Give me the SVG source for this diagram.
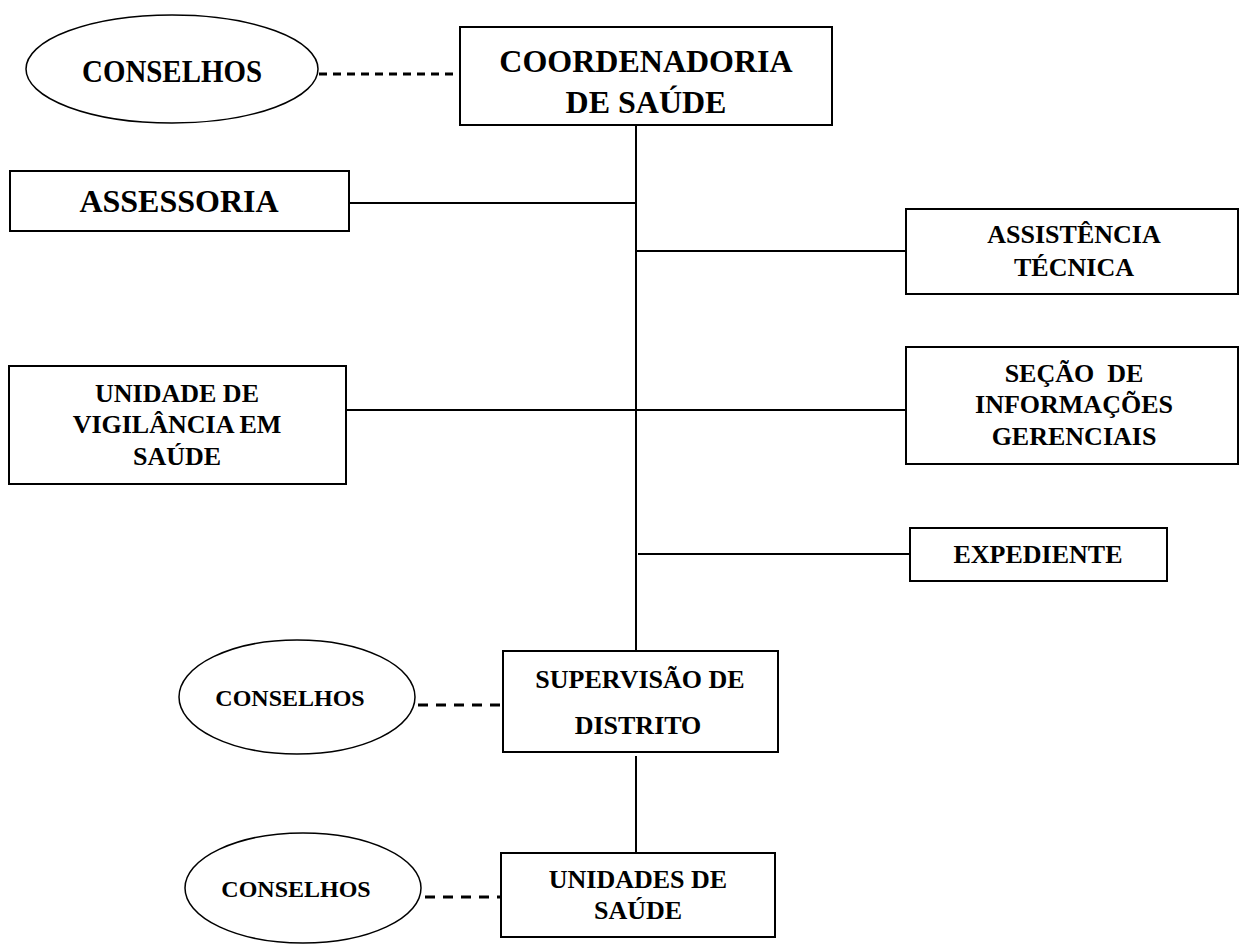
<svg xmlns="http://www.w3.org/2000/svg" width="1239" height="945" viewBox="0 0 1239 945">
<style>
.box{fill:#fff;stroke:#000;stroke-width:2}
.ell{fill:#fff;stroke:#000;stroke-width:1.5}
.ln{stroke:#000;stroke-width:2;fill:none}
.dash{stroke:#000;stroke-width:3;fill:none;stroke-dasharray:8 6}
.dash2{stroke:#000;stroke-width:3;fill:none;stroke-dasharray:10 8}
text{font-family:"Liberation Serif","Times New Roman",serif;font-weight:bold;fill:#000;text-anchor:middle}
.big{font-size:32px}
.mid{font-size:26px}
.sm{font-size:24px}
</style>
<rect width="1239" height="945" fill="#fff"/>
<g id="connectors">
<line class="ln" x1="636" y1="125" x2="636" y2="651"/>
<line class="ln" x1="349" y1="203" x2="636" y2="203"/>
<line class="ln" x1="636" y1="251" x2="906" y2="251"/>
<line class="ln" x1="346" y1="410" x2="906" y2="410"/>
<line class="ln" x1="638" y1="554" x2="910" y2="554"/>
<line class="ln" x1="636" y1="756" x2="636" y2="853"/>
<line class="dash" x1="319" y1="74" x2="460" y2="74"/>
<line class="dash2" x1="418" y1="705" x2="503" y2="705"/>
<line class="dash2" x1="425" y1="897" x2="501" y2="897"/>
</g>
<g id="conselhos1">
<ellipse class="ell" cx="172" cy="69" rx="146" ry="54"/>
<text class="big" x="172" y="82" textLength="180" lengthAdjust="spacingAndGlyphs">CONSELHOS</text>
</g>
<g id="coordenadoria">
<rect class="box" x="460" y="27" width="372" height="98"/>
<text class="big" x="646" y="72">COORDENADORIA</text>
<text class="big" x="646" y="113">DE SAÚDE</text>
</g>
<g id="assessoria">
<rect class="box" x="10" y="171" width="339" height="60"/>
<text class="big" x="179" y="212">ASSESSORIA</text>
</g>
<g id="assistencia">
<rect class="box" x="906" y="209" width="332" height="85"/>
<text class="mid" x="1074" y="243">ASSISTÊNCIA</text>
<text class="mid" x="1074" y="276">TÉCNICA</text>
</g>
<g id="unidade-vigilancia">
<rect class="box" x="9" y="366" width="337" height="118"/>
<text class="mid" x="177" y="402">UNIDADE DE</text>
<text class="mid" x="177" y="433">VIGILÂNCIA EM</text>
<text class="mid" x="177" y="465">SAÚDE</text>
</g>
<g id="secao">
<rect class="box" x="906" y="347" width="332" height="117"/>
<text class="mid" x="1074" y="382" xml:space="preserve">SEÇÃO  DE</text>
<text class="mid" x="1074" y="413">INFORMAÇÕES</text>
<text class="mid" x="1074" y="445">GERENCIAIS</text>
</g>
<g id="expediente">
<rect class="box" x="910" y="528" width="257" height="53"/>
<text class="mid" x="1038" y="563">EXPEDIENTE</text>
</g>
<g id="conselhos2">
<ellipse class="ell" cx="297" cy="697" rx="118" ry="57"/>
<text class="sm" x="290" y="706">CONSELHOS</text>
</g>
<g id="supervisao">
<rect class="box" x="503" y="651" width="275" height="101"/>
<text class="mid" x="640" y="688">SUPERVISÃO DE</text>
<text class="mid" x="638" y="734">DISTRITO</text>
</g>
<g id="conselhos3">
<ellipse class="ell" cx="303" cy="888" rx="118" ry="55"/>
<text class="sm" x="296" y="897">CONSELHOS</text>
</g>
<g id="unidades-saude">
<rect class="box" x="501" y="853" width="274" height="84"/>
<text class="mid" x="638" y="888">UNIDADES DE</text>
<text class="mid" x="638" y="919">SAÚDE</text>
</g>
</svg>
